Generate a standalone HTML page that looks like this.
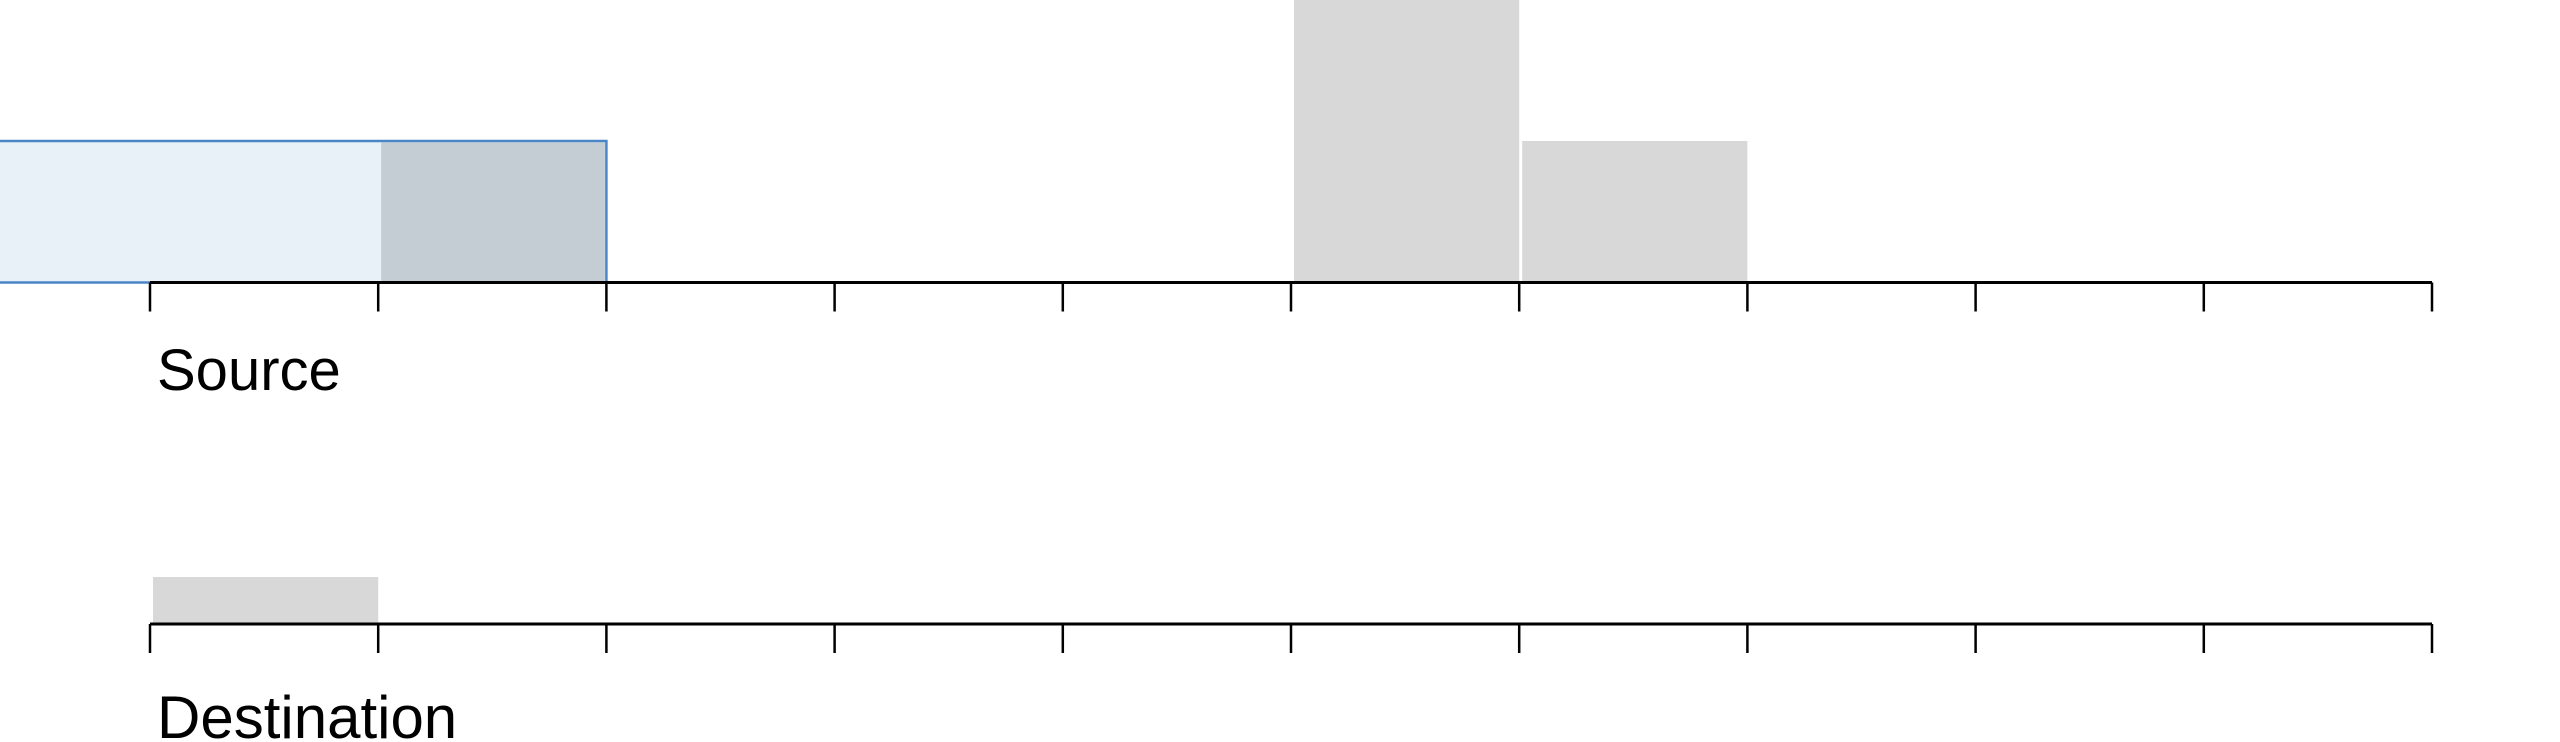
<!DOCTYPE html>
<html><head><meta charset="utf-8"><style>
html,body{margin:0;padding:0;background:#fff;width:2560px;height:742px;overflow:hidden}
svg{display:block}
text{font-family:"Liberation Sans",sans-serif;fill:#000}
</style></head><body>
<svg id="chart" width="2560" height="742" viewBox="0 0 2560 742" xmlns="http://www.w3.org/2000/svg">
<g id="src"></g>
<g id="dst"></g>
</svg>
<script>
const binTicks = [0,1,2,3,4,5,6,7,8,9,10];
const sourceCounts = [0,0,0,0,0,2,1,0,0,0];
const destinationCounts = [1,0,0,0,0,0,0,0,0,0];
const selectionBins = [-0.67,2];
const selectionCount = 1;
const selectedCounts = [0,1];

const NS='http://www.w3.org/2000/svg';
function xs(v){return 150+v*228.2;}
function mk(tag,attrs,parent){const e=document.createElementNS(NS,tag);for(const k in attrs)e.setAttribute(k,attrs[k]);parent.appendChild(e);return e;}

function drawPanel(g,counts,axisY,unit,label,labelY,fs,prefix){
  counts.forEach((c,i)=>{
    if(c<=0)return;
    const r=mk('rect',{x:xs(i)+3,y:axisY-c*unit,width:xs(i+1)-xs(i)-3,height:c*unit,fill:'#d8d8d8'},g);
    
    
  });
  const ax=mk('line',{x1:xs(0),x2:xs(10),y1:axisY,y2:axisY,stroke:'#000','stroke-width':3},g);
  
  
  binTicks.forEach(t=>{
    const l=mk('line',{x1:xs(t),x2:xs(t),y1:axisY,y2:axisY+29,stroke:'#000','stroke-width':2.5},g);
    
    
  });
  const tx=mk('text',{x:157,y:labelY,'font-size':fs},g);
  tx.textContent=label;
  
  
}

const src=document.getElementById('src');
const srcAxis=282.5, srcUnit=141.5;
const sx0=xs(selectionBins[0]), sx1=xs(selectionBins[1]);
const sel=mk('rect',{x:sx0,y:srcAxis-selectionCount*srcUnit,width:sx1-sx0,height:selectionCount*srcUnit,fill:'#e8f0f8',stroke:'#4a86c5','stroke-width':2.5},src);


selectedCounts.forEach((c,i)=>{
  if(c<=0)return;
  const r=mk('rect',{x:xs(i)+3,y:srcAxis-c*srcUnit+1.5,width:xs(i+1)-xs(i)-4.5,height:c*srcUnit-1.5,fill:'#c5cdd4'},src);
  
  
});
drawPanel(src,sourceCounts,srcAxis,srcUnit,'Source',390,58,'source');

const dst=document.getElementById('dst');
drawPanel(dst,destinationCounts,624,47,'Destination',738,60,'destination');
</script>
</body></html>
